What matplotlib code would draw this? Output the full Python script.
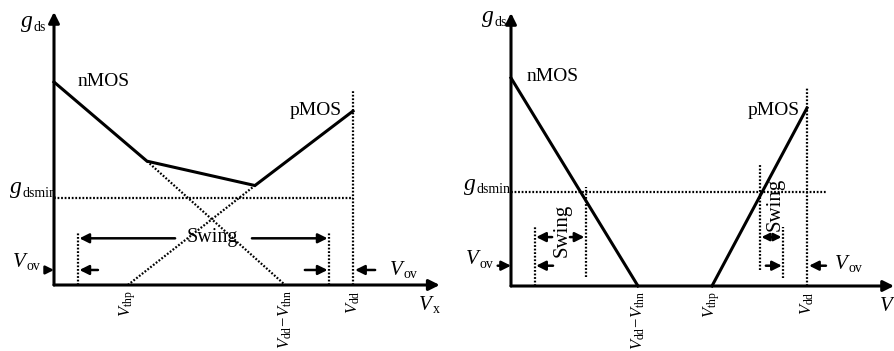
import matplotlib.pyplot as plt
from matplotlib.transforms import ScaledTranslation

plt.rcParams['font.family'] = ['Liberation Serif', 'DejaVu Serif']
plt.rcParams['mathtext.fontset'] = 'custom'
plt.rcParams['mathtext.rm'] = 'Liberation Serif'
plt.rcParams['mathtext.it'] = 'Liberation Serif:italic'

# normalised units: Vdd = 1, gds scaled so the nMOS maximum is about 1
vdd = 1.0
vov = 0.08

# left: overlapping transistors (class-AB style output)
a_thp = 0.247
a_ddthn = 0.773
a_gmin = 0.43
a_solid_x = [0.0, 0.311, 0.672, 1.0]
a_solid_g = [1.0, 0.61, 0.49, 0.857]
a_ndot_x = [0.311, 0.773]
a_ndot_g = [0.61, 0.0]
a_pdot_x = [0.247, 0.672]
a_pdot_g = [0.0, 0.49]

# right: non-overlapping transistors
b_ddthn = 0.429
b_thp = 0.679
b_gmin = 0.463
b_n_x = [0.0, 0.429]
b_n_g = [1.025, 0.0]
b_p_x = [0.679, 1.0]
b_p_g = [0.0, 0.877]

LW = 2.2
DOT = dict(color='k', lw=1.6, linestyle=(0, (0.8, 0.8)))


def arrow(ax, x0, y0, x1, y1, lw=1.8, ms=14):
    ax.annotate('', xy=(x1, y1), xytext=(x0, y0),
                arrowprops=dict(arrowstyle='-|>', lw=lw, color='k',
                                mutation_scale=ms, shrinkA=0, shrinkB=0))


def sublabel(ax, x, y, main, sub, size=15, subsize=10, drop=2.5):
    # italic symbol ending at x, small upright subscript starting at x
    ax.text(x, y, main, style='italic', fontsize=size, ha='right', va='baseline')
    tr = ax.transData + ScaledTranslation(0.5 / 72, -drop / 72, fig.dpi_scale_trans)
    ax.text(x, y, sub, fontsize=subsize, ha='left', va='baseline', transform=tr)


def axes_frame(ax, xend, ytop, gmin, gmin_end, vdd_top, ticks):
    arrow(ax, 0, 0, 0, ytop, lw=LW, ms=16)
    arrow(ax, 0, 0, xend, 0, lw=LW, ms=16)
    ax.plot([0, gmin_end], [gmin, gmin], **DOT)
    ax.plot([vdd, vdd], [0, vdd_top], **DOT)
    for x, lab in ticks:
        ax.text(x, -0.025, lab, fontsize=12, rotation=90, ha='center', va='top')


fig = plt.figure(figsize=(8.94, 3.51), dpi=100)
ax1 = fig.add_axes([0, 0, 0.5, 1])
ax2 = fig.add_axes([0.5, 0, 0.5, 1])
for ax in (ax1, ax2):
    ax.axis('off')
ax1.set_xlim(-0.1806, 1.3144)
ax1.set_ylim(-0.3251, 1.4039)
ax2.set_xlim(-0.2162, 1.2939)
ax2.set_ylim(-0.3202, 1.4089)

# ---- left panel
ax = ax1
axes_frame(ax, 1.29, 1.345, a_gmin, vdd, 0.96,
           [(a_thp, r'$V_{\mathrm{thp}}$'),
            (a_ddthn, r'$V_{\mathrm{dd}}\!-\!V_{\mathrm{thn}}$'),
            (vdd, r'$V_{\mathrm{dd}}$')])
ax.plot(a_solid_x, a_solid_g, color='k', lw=LW, solid_joinstyle='miter')
ax.plot(a_ndot_x, a_ndot_g, **DOT)
ax.plot(a_pdot_x, a_pdot_g, **DOT)
ax.plot([vov, vov], [0, 0.26], **DOT)
ax.plot([vdd - vov, vdd - vov], [0, 0.26], **DOT)
ax.text(0.08, 1.0, 'nMOS', fontsize=14, ha='left', va='center')
ax.text(0.963, 0.86, 'pMOS', fontsize=14, ha='right', va='center')
ax.text(0.528, 0.235, 'Swing', fontsize=14.5, ha='center', va='center')
arrow(ax, 0.405, 0.23, vov + 0.005, 0.23)
arrow(ax, 0.662, 0.23, vdd - vov - 0.005, 0.23)
arrow(ax, -0.022, 0.074, 0, 0.074, ms=12)
arrow(ax, 0.147, 0.074, vov + 0.005, 0.074)
arrow(ax, 0.839, 0.074, vdd - vov - 0.005, 0.074)
arrow(ax, 1.074, 0.074, vdd + 0.007, 0.074)
sublabel(ax, -0.07, 1.27, 'g', 'ds', size=17)
sublabel(ax, -0.107, 0.453, 'g', 'dsmin', size=17)
sublabel(ax, -0.095, 0.089, 'V', 'ov')
sublabel(ax, 1.167, 0.05, 'V', 'ov')
sublabel(ax, 1.264, -0.123, 'V', 'x')

# ---- right panel
ax = ax2
axes_frame(ax, 1.294, 1.345, b_gmin, 1.064, 0.975,
           [(b_ddthn, r'$V_{\mathrm{dd}}\!-\!V_{\mathrm{thn}}$'),
            (b_thp, r'$V_{\mathrm{thp}}$'),
            (vdd, r'$V_{\mathrm{dd}}$')])
ax.plot(b_n_x, b_n_g, color='k', lw=LW)
ax.plot(b_p_x, b_p_g, color='k', lw=LW)
ax.plot([vov, vov], [0, 0.29], **DOT)
ax.plot([0.253, 0.253], [0.044, 0.488], **DOT)
ax.plot([0.841, 0.841], [0.079, 0.596], **DOT)
ax.plot([vdd - vov, vdd - vov], [0.04, 0.29], **DOT)
ax.text(0.054, 1.03, 'nMOS', fontsize=14, ha='left', va='center')
ax.text(0.976, 0.867, 'pMOS', fontsize=14, ha='right', va='center')
ax.text(0.172, 0.276, 'Swing', fontsize=15, rotation=90, ha='center', va='center')
ax.text(0.892, 0.40, 'Swing', fontsize=15, rotation=90, ha='center', va='center')
arrow(ax, 0.139, 0.241, vov + 0.005, 0.241)
arrow(ax, 0.199, 0.241, 0.248, 0.241)
arrow(ax, 0.88, 0.241, 0.846, 0.241, ms=11)
arrow(ax, 0.88, 0.241, 0.914, 0.241, ms=11)
arrow(ax, -0.045, 0.1, 0, 0.1)
arrow(ax, 0.142, 0.1, vov + 0.005, 0.1)
arrow(ax, 0.861, 0.1, vdd - vov - 0.005, 0.1)
arrow(ax, 1.064, 0.1, vdd + 0.007, 0.1)
sublabel(ax, -0.057, 1.30, 'g', 'ds', size=17)
sublabel(ax, -0.118, 0.473, 'g', 'dsmin', size=17)
sublabel(ax, -0.11, 0.108, 'V', 'ov')
sublabel(ax, 1.139, 0.084, 'V', 'ov')
ax.text(1.289, -0.123, 'V', style='italic', fontsize=15, ha='right', va='baseline')

fig.savefig('out.png', dpi=100)
